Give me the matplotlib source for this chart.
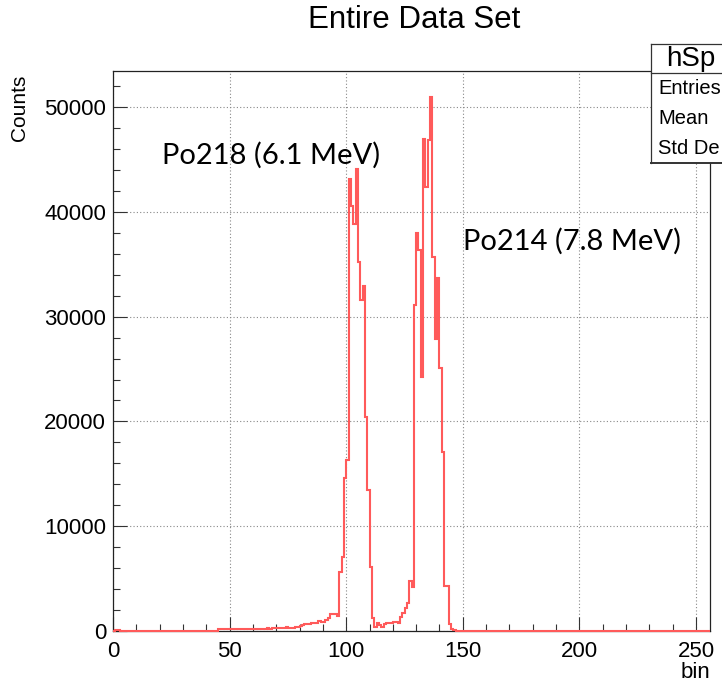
import matplotlib
matplotlib.use("Agg")
import matplotlib.pyplot as plt
import numpy as np
from matplotlib.patches import Rectangle
from matplotlib.lines import Line2D

# ---------------- data ----------------
bin_lo, bin_hi = 0, 256
counts_000_049 = [40, 60, 50, 40, 30, 0, 40, 0, 30, 0,
                  30, 0, 40, 30, 0, 30, 0, 0, 40, 30,
                  0, 30, 40, 0, 30, 0, 30, 0, 0, 30,
                  40, 30, 0, 0, 0, 0, 0, 0, 0, 0,
                  0, 0, 0, 0, 0, 150, 180, 160, 170, 150]
counts_050_099 = [180, 200, 170, 190, 210, 180, 200, 190, 170, 200,
                  190, 210, 200, 180, 220, 200, 250, 230, 270, 240,
                  260, 250, 320, 300, 340, 310, 330, 320, 410, 400,
                  430, 540, 670, 650, 690, 730, 720, 740, 980, 900,
                  890, 1050, 1210, 1590, 1600, 1580, 1430, 5660, 7060, 14600]
counts_100_149 = [16300, 43100, 40550, 38800, 44100, 35240, 31600, 32900, 20450, 13450,
                  6080, 1270, 410, 730, 570, 410, 670, 800, 800, 800,
                  890, 890, 800, 1370, 1690, 2170, 2700, 4750, 4170, 31100,
                  37950, 36350, 24200, 46950, 42400, 46850, 50930, 35700, 27900, 33650,
                  25100, 17100, 4300, 4300, 670, 150, 60, 30, 0, 0]
counts_150_199 = [0, 0, 0, 0, 0, 0, 0, 0, 0, 0,
                  0, 30, 30, 30, 0, 0, 0, 30, 30, 0,
                  0, 0, 0, 0, 0, 30, 30, 30, 0, 30,
                  30, 20, 30, 40, 30, 30, 20, 30, 30, 40,
                  30, 30, 20, 30, 30, 30, 40, 30, 20, 30]
counts_200_255 = [30, 30, 40, 30, 20, 30, 30, 30, 40, 30,
                  20, 30, 30, 30, 40, 30, 30, 20, 30, 30,
                  30, 40, 30, 30, 20, 30, 30, 30, 40, 30,
                  30, 20, 30, 30, 30, 40, 30, 30, 20, 30,
                  30, 30, 40, 30, 30, 20, 30, 30, 30, 40,
                  30, 30, 20, 30, 30, 30]

x_ticks = [0, 50, 100, 150, 200, 250]
y_ticks = [0, 10000, 20000, 30000, 40000, 50000]
title = "Entire Data Set"
x_label = "bin"
y_label = "Counts"
peak_labels = ["Po218 (6.1 MeV)", "Po214 (7.8 MeV)"]
stats_title = "hSp"
stats_rows = ["Entries", "Mean", "Std De"]

counts = np.array(counts_000_049 + counts_050_099 + counts_100_149
                  + counts_150_199 + counts_200_255, dtype=float)
edges = np.linspace(bin_lo, bin_hi, len(counts) + 1)

# ---------------- figure ----------------
W, H = 722, 685
DPI = 100
plt.rcParams['font.family'] = ['Liberation Sans', 'DejaVu Sans']
fig = plt.figure(figsize=(W / DPI, H / DPI), dpi=DPI)
fig.patch.set_facecolor('white')

def fx(x):
    return x / W

def fy(y):
    return 1 - y / H

ax_l, ax_r, ax_t, ax_b = 113, 710, 70.7, 631
ax = fig.add_axes([fx(ax_l), fy(ax_b), (ax_r - ax_l) / W, (ax_b - ax_t) / H])

ax.stairs(counts, edges, color='#ff5a5a', lw=1.5, baseline=None,
          zorder=3, clip_on=False)

ax.set_xlim(bin_lo, bin_hi)
ax.set_ylim(0, max(counts) * 1.05)

ax.set_xticks(x_ticks)
ax.set_xticklabels([str(t) for t in x_ticks])
ax.set_yticks(y_ticks)
ax.set_yticklabels([str(t) for t in y_ticks])
ax.set_xticks(np.arange(bin_lo, bin_hi + 1, 10), minor=True)
ax.set_yticks(np.arange(0, max(counts) * 1.05, 2000), minor=True)

ax.tick_params(which='major', direction='in', length=10, width=0.8,
               labelsize=16, pad=5, color='#333333')
ax.tick_params(which='minor', direction='in', length=5, width=0.8,
               color='#333333')
ax.tick_params(axis='x', pad=7)
ax.grid(True, which='major', linestyle=(0, (1, 2)), color='#888888', lw=0.8)
ax.set_axisbelow(True)
for s in ax.spines.values():
    s.set_linewidth(0.9)
    s.set_color('#222222')

# axis titles
fig.text(fx(19), fy(75), y_label, rotation=90, ha='center', va='top', fontsize=15)
fig.text(fx(710), fy(672), x_label, ha='right', va='center', fontsize=16)

# title
fig.text(fx(414), fy(20), title, ha='center', va='center', fontsize=22.5)

# peak annotations
fig.text(fx(162), fy(155), peak_labels[0], ha='left', va='center',
         fontsize=21, family=['Lato', 'DejaVu Sans'])
fig.text(fx(463), fy(241), peak_labels[1], ha='left', va='center',
         fontsize=21, family=['Lato', 'DejaVu Sans'])

# stats box (extends past the right edge of the picture)
box_l, box_t, box_b, box_div = 651, 44, 163, 73
fig.patches.append(Rectangle((fx(box_l), fy(box_b)), 1.0 - fx(box_l),
                             fy(box_t) - fy(box_b), transform=fig.transFigure,
                             facecolor='white', edgecolor='none', zorder=5))
for (xa, ya, xb, yb, lw) in [(box_l, box_t, W, box_t, 0.9),
                             (box_l, box_div, W, box_div, 0.9),
                             (box_l, box_b, W, box_b, 1.4),
                             (box_l, box_t, box_l, box_b, 0.9)]:
    fig.lines.append(Line2D([fx(xa), fx(xb)], [fy(ya), fy(yb)],
                            transform=fig.transFigure, color='#333333', lw=lw,
                            zorder=6))
fig.text(fx(666), fy(58.5), stats_title, ha='left', va='center', fontsize=20,
         zorder=7)
for i, row in enumerate(stats_rows):
    fig.text(fx(658), fy(88 + i * 30.5), row, ha='left', va='center',
             fontsize=14.5, zorder=7)

fig.savefig('out.png', dpi=DPI)
